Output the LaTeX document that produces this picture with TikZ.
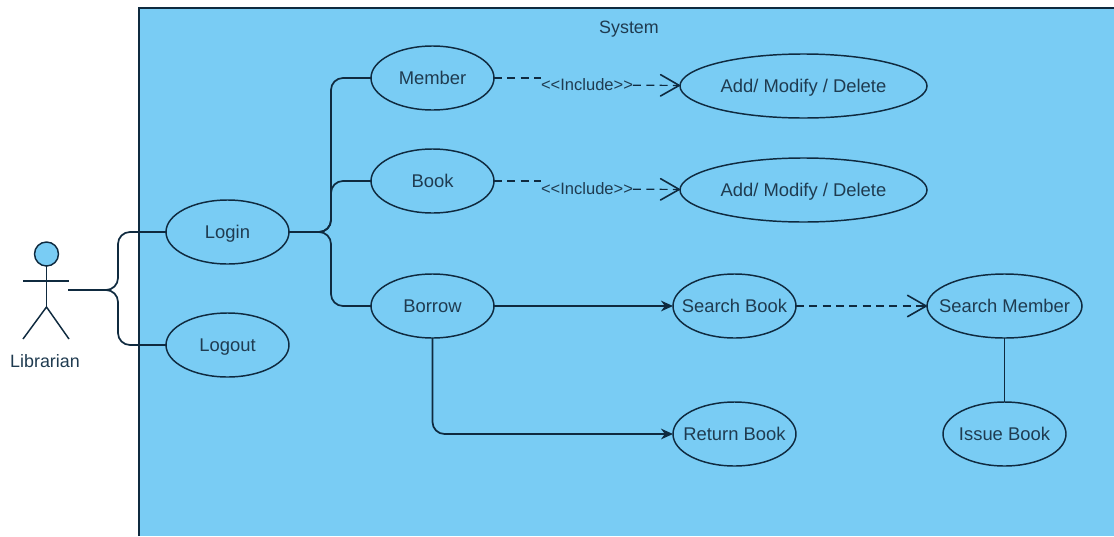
\documentclass[tikz,border=0pt]{standalone}
\usepackage{fontspec}
\setmainfont{Liberation Sans}
\usetikzlibrary{positioning,shapes.geometric,arrows.meta}
\definecolor{sysblue}{HTML}{79CCF4}
\definecolor{inkline}{HTML}{0F2A3F}
\definecolor{inktext}{HTML}{1F3B50}
\tikzset{
    usecase/.style={ellipse, draw=inkline, line width=1.1pt, inner xsep=-30pt, inner ysep=0pt, outer sep=0pt,
        minimum width=92.25pt, minimum height=48pt, text=inktext, text height=10pt, text depth=0pt,
        font=\fontsize{13.8}{15}\selectfont},
    link/.style={draw=inkline, line width=1.3pt, rounded corners=9pt},
    solidarrow/.style={link, -{Stealth[length=9pt,width=8pt]}},
    dashline/.style={draw=inkline, line width=0.9pt, dash pattern=on 6pt off 4pt},
    openarrow/.style={dashline, -{Straight Barb[length=14pt,width=16pt,line width=1.2pt,round]}},
    tag/.style={text=inktext, font=\fontsize{12.4}{15}\selectfont, inner sep=0pt, outer sep=0pt},
}

\begin{document}
\begin{tikzpicture}[x=0.75pt,y=-0.75pt]
    \useasboundingbox (0,0) rectangle (1114,536);
    % system box, open at the page edges
    \node (system) [fill=sysblue, rectangle, inner sep=0pt, outer sep=0pt,
        minimum width=731.25pt, minimum height=396pt, anchor=north west] at (139,8) {};
    \draw [inkline, line width=1.1pt] (system.south west) -- (system.north west) -- (system.north east);
    \node (systemlabel) [tag, font=\fontsize{13.4}{15}\selectfont] at (629,29) {System};

    % actor
    \node (head) [circle, draw=inkline, line width=1.1pt, fill=sysblue, inner sep=0pt,
        minimum size=18pt, outer sep=0pt] at (46.5,254) {};
    \coordinate (hip) at (46.5,307);
    \coordinate (armleft) at (23,281);
    \coordinate (armright) at (69,281);
    \coordinate (footleft) at (23,339);
    \coordinate (footright) at (69,339);
    \coordinate (actor) at (68,290);
    \draw [inkline, line width=1.1pt] (head) -- (hip);
    \draw [inkline, line width=1.1pt] (armleft) -- (armright);
    \draw [inkline, line width=1.1pt] (footleft) -- (hip) -- (footright);
    \node (librarian) [tag, font=\fontsize{13.4}{15}\selectfont] at (45,361) {Librarian};

    % use cases
    \node (login) [usecase] at (227.5,232) {Login};
    \node (logout) [usecase, below=36.75pt of login] {Logout};
    \node (member) [usecase] at (432.5,78) {Member};
    \node (book) [usecase, below=29.25pt of member] {Book};
    \node (borrow) [usecase, below=45.75pt of book] {Borrow};
    \node (addmember) [usecase, minimum width=185.25pt] at (803.5,86) {Add/ Modify / Delete};
    \node (addbook) [usecase, minimum width=185.25pt] at (803.5,190) {Add/ Modify / Delete};
    \node (searchbook) [usecase, right=134.25pt of borrow] {Search Book};
    \node (returnbook) [usecase, below=48pt of searchbook] {Return Book};
    \node (searchmember) [usecase, minimum width=116.25pt, right=98.25pt of searchbook] {Search Member};
    \node (issuebook) [usecase, below=48pt of searchmember] {Issue Book};

    % actor to login and logout
    \draw [link] (actor) -- ++(50,0) |- (login);
    \draw [link] (actor) -- ++(50,0) |- (logout);

    % login to the three menus
    \draw [link] (login.east) -- ++(42,0) |- (member);
    \draw [link] (login.east) -- ++(42,0) |- (book);
    \draw [link] (login.east) -- ++(42,0) |- (borrow);

    % include arrows
    \node (includeone) [tag] at (587,85) {<{}<Include>{}>};
    \node (includetwo) [tag] at (587,189) {<{}<Include>{}>};
    \draw [dashline] (member) -- (includeone.west |- member);
    \draw [dashline] (book) -- (includetwo.west |- book);
    \draw [openarrow] (includeone) -- (addmember);
    \draw [openarrow] (includetwo) -- (addbook);

    % borrow arrows
    \draw [solidarrow] (borrow) -- (searchbook);
    \draw [solidarrow] (borrow) |- (returnbook);

    \draw [openarrow] (searchbook) -- (searchmember);
    \draw [link] (searchmember) -- (issuebook);
\end{tikzpicture}
\end{document}
